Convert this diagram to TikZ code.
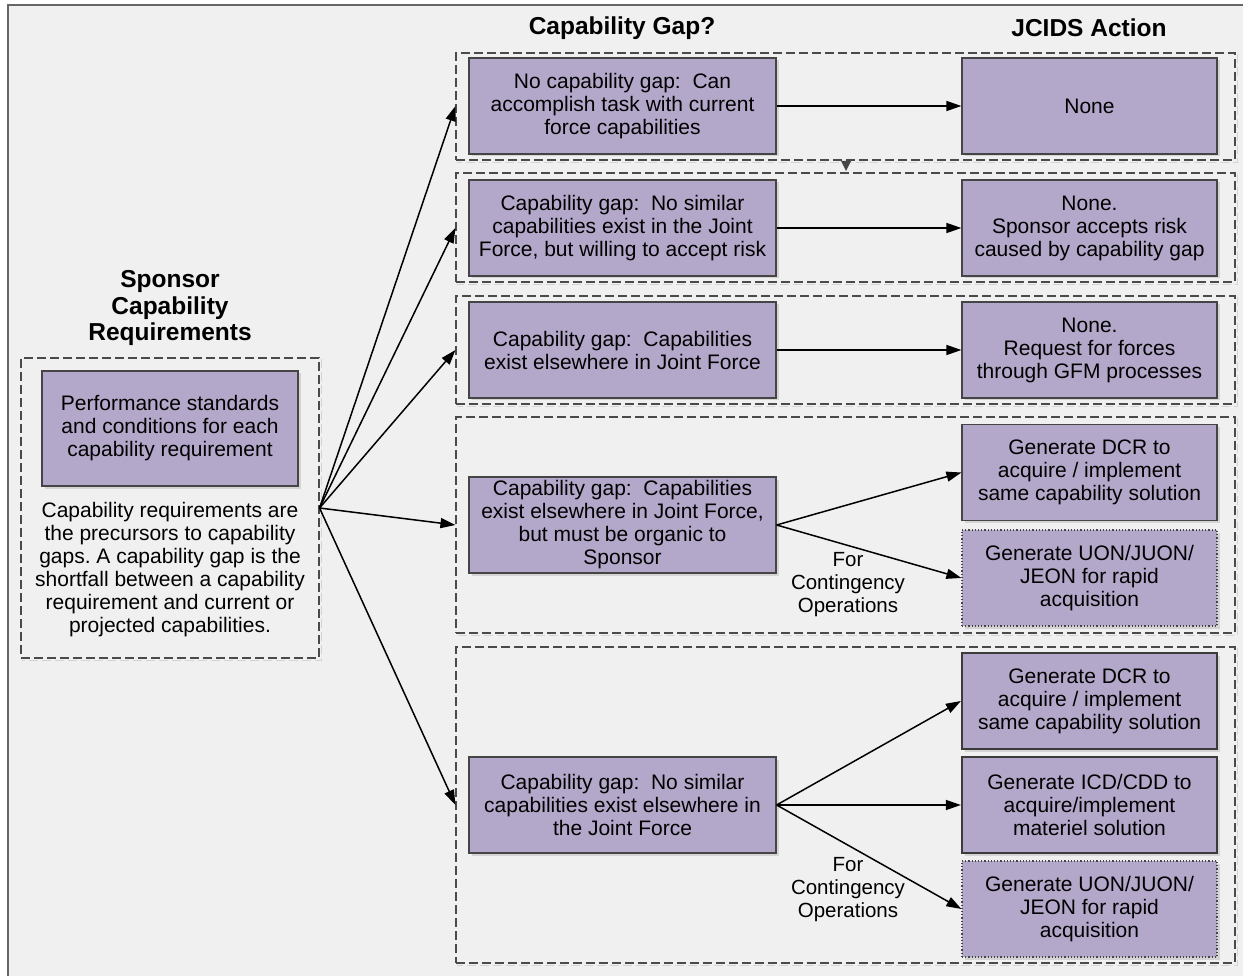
\documentclass[tikz,border=0pt]{standalone}
\usepackage{fontspec}
\setmainfont{Liberation Sans}
\usetikzlibrary{arrows.meta,shadows}
\definecolor{pagebg}{HTML}{F0F0F0}
\definecolor{boxfill}{HTML}{B4A8CA}
\definecolor{boxline}{HTML}{454545}
\definecolor{frameline}{HTML}{666666}
\definecolor{grpline}{HTML}{4A4A4A}
\definecolor{shade}{HTML}{D4D4D4}
\frenchspacing
\begin{document}
\begin{tikzpicture}[x=1pt,y=-1pt,
  every node/.style={font=\fontsize{21}{23}\selectfont, align=center, inner sep=0pt},
  cbox/.style={rectangle, draw=boxline, line width=1.2pt, fill=boxfill,
    drop shadow={shadow xshift=2.5pt, shadow yshift=-2.5pt, fill=shade, opacity=1}},
  gapbox/.style={cbox, minimum width=307pt, minimum height=96pt},
  actbox/.style={cbox, minimum width=255pt, minimum height=96pt},
  heavy/.style={line width=2.2pt, draw=boxline!85!black},
  dotbox/.style={dotted, line width=1.2pt},
  grp/.style={rectangle, draw=grpline, dash pattern=on 9pt off 4pt, line width=1.1pt},
  grpshade/.style={draw=shade, dash pattern=on 9pt off 4pt, line width=1pt},
  hdr/.style={font=\bfseries\fontsize{24.5}{26.7}\selectfont},
  note/.style={font=\fontsize{20.5}{23}\selectfont},
  flow/.style={line width=1.5pt, -{Triangle[length=15pt,width=10pt]}}
]
% page and outer frame
\useasboundingbox (0,0) rectangle (1243,976);
\clip (0,0) rectangle (1243,976);
\fill[white] (0,0) rectangle (1243,976);
\fill[pagebg] (8,5) rectangle (1260,990);
\draw[frameline, line width=2pt] (8,990) -- (8,5) -- (1260,5);

% column headings
\node[hdr] (hgap) at (622,28) {Capability Gap?};
\node[hdr] (hact) at (1089,28) {JCIDS Action};
\node[hdr] (hspon) at (170,308) {Sponsor\\Capability\\Requirements};

% dashed groups
\node[grp, minimum width=298pt, minimum height=300pt] (lg) at (170,508) {};
\node[grp, minimum width=779pt, minimum height=107pt] (g1) at (845.5,106.5) {};
\node[grp, minimum width=779pt, minimum height=109pt] (g2) at (845.5,227.5) {};
\node[grp, minimum width=779pt, minimum height=108pt] (g3) at (845.5,350) {};
\node[grp, minimum width=779pt, minimum height=216pt] (g4) at (845.5,525) {};
\node[grp, minimum width=779pt, minimum height=316pt] (g5) at (845.5,805) {};
\foreach \g in {lg,g1,g2,g3,g4,g5}{
  \draw[grpshade] ([shift={(2,2)}]\g.north east) -- ([shift={(2,2)}]\g.south east)
                  -- ([shift={(2,2)}]\g.south west);
}

% small marker between the first two groups
\fill[boxline] (841,161) -- (851,161) -- (846,171) -- cycle;

% sponsor requirement
\node[cbox, minimum width=256pt, minimum height=115pt] (pbox) at (170,428.5)
  {Performance standards\\and conditions for each\\capability requirement};
\node (ltext) at (170,569.5)
  {Capability requirements are\\the precursors to capability\\gaps. A capability gap is the\\shortfall between a capability\\requirement and current or\\projected capabilities.};

% capability gaps
\node[gapbox] (gap1) at (622.5,106) {No capability gap:\ \ Can\\accomplish task with current\\force capabilities};
\node[gapbox] (gap2) at (622.5,228) {Capability gap:\ \ No similar\\capabilities exist in the Joint\\Force, but willing to accept risk};
\node[gapbox] (gap3) at (622.5,350) {Capability gap:\ \ Capabilities\\exist elsewhere in Joint Force};
\node[gapbox] (gap4) at (622.5,525) {Capability gap:\ \ Capabilities\\exist elsewhere in Joint Force,\\but must be organic to\\Sponsor};
\node[gapbox] (gap5) at (622.5,805) {Capability gap:\ \ No similar\\capabilities exist elsewhere in\\the Joint Force};

% JCIDS actions
\node[actbox] (act1) at (1089.5,106) {None};
\node[actbox] (act2) at (1089.5,228) {None.\\Sponsor accepts risk\\caused by capability gap};
\node[actbox] (act3) at (1089.5,350) {None.\\Request for forces\\through GFM processes};
\node[actbox] (act4a) at (1089.5,472.5) {Generate DCR to\\acquire / implement\\same capability solution};
\node[actbox, dotbox] (act4b) at (1089.5,578) {Generate UON/JUON/\\JEON for rapid\\acquisition};
\node[actbox, heavy] (act5a) at (1089.5,701) {Generate DCR to\\acquire / implement\\same capability solution};
\node[actbox, heavy] (act5b) at (1089.5,805) {Generate ICD/CDD to\\acquire/implement\\materiel solution};
\node[actbox, dotbox] (act5c) at (1089.5,909) {Generate UON/JUON/\\JEON for rapid\\acquisition};

% contingency labels
\node[note] (cont4) at (848,585) {For\\Contingency\\Operations};
\node[note] (cont5) at (848,890) {For\\Contingency\\Operations};

% connectors
\draw[flow] (lg.east) -- (g1.west |- gap1.west);
\draw[flow] (lg.east) -- (g2.west |- gap2.west);
\draw[flow] (lg.east) -- (g3.west |- gap3.west);
\draw[flow] (lg.east) -- (g4.west |- gap4.west);
\draw[flow] (lg.east) -- (g5.west |- gap5.west);
\draw[flow] (gap1.east) -- (act1.west);
\draw[flow] (gap2.east) -- (act2.west);
\draw[flow] (gap3.east) -- (act3.west);
\draw[flow] (gap4.east) -- (act4a.west);
\draw[flow] (gap4.east) -- (act4b.west);
\draw[flow] (gap5.east) -- (act5a.west);
\draw[flow] (gap5.east) -- (act5b.west);
\draw[flow] (gap5.east) -- (act5c.west);
\end{tikzpicture}
\end{document}
